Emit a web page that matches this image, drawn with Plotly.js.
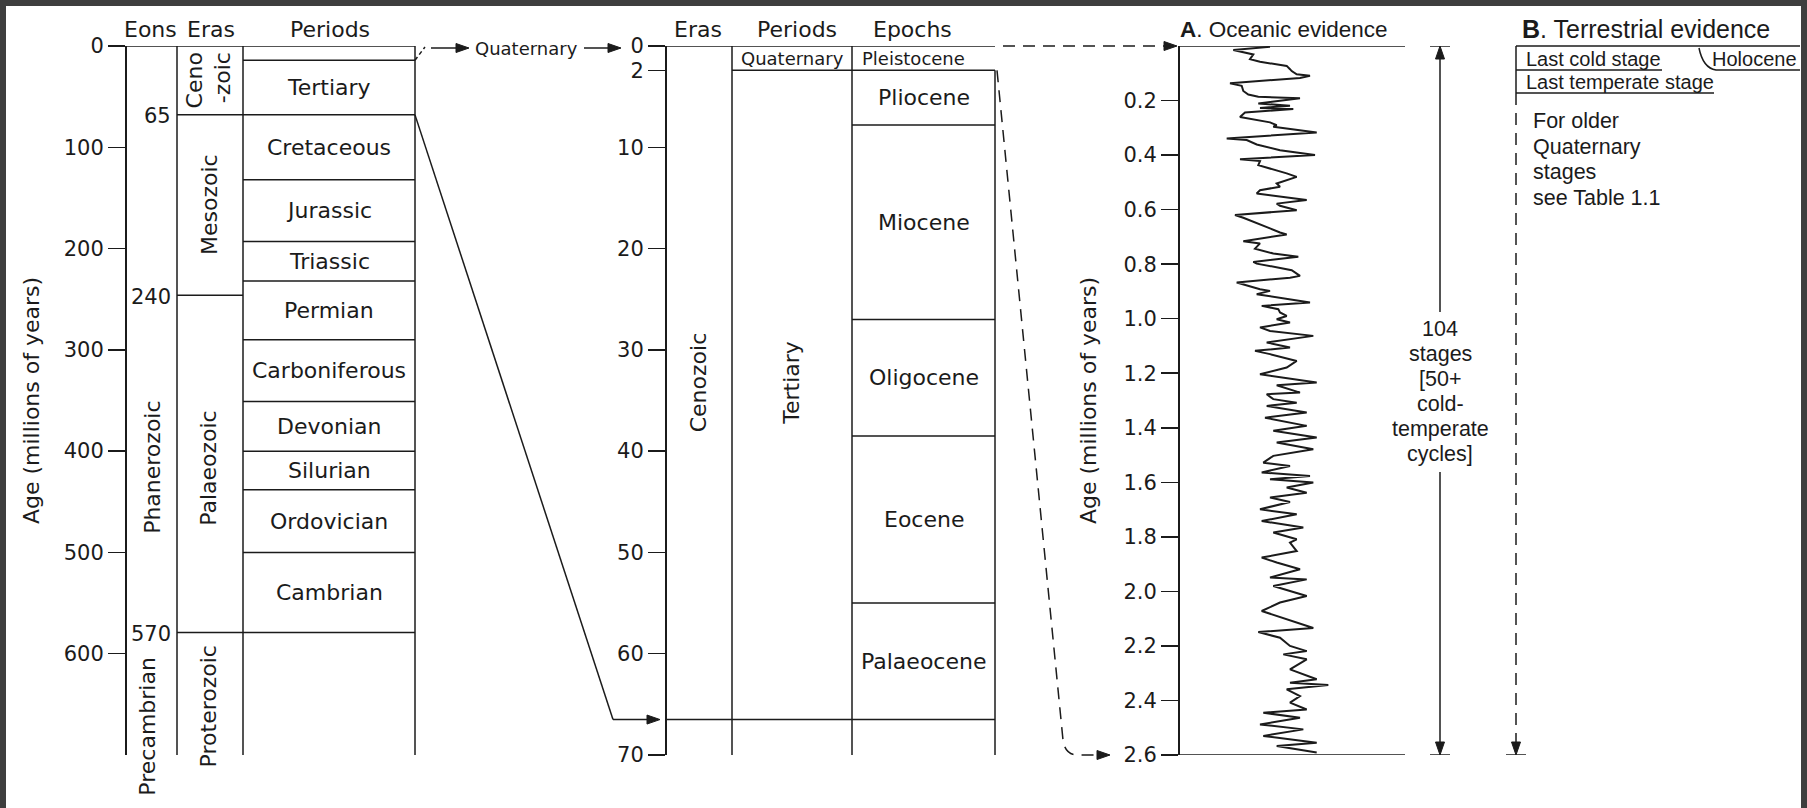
<!DOCTYPE html>
<html><head><meta charset="utf-8">
<script src="https://cdn.plot.ly/plotly-3.0.1.min.js"></script>
<style>html,body{margin:0;padding:0;background:#fff;}#chart{width:1807px;height:808px;}</style>
</head><body><div id="chart"></div>
<script>
// ================= DATA =================
// Left panel – whole geological column, ages in millions of years as drawn
const eonNames = ['Phanerozoic', 'Precambrian'];
const eraNames = ['Ceno<br>-zoic', 'Mesozoic', 'Palaeozoic', 'Proterozoic'];
const eraBounds = [0, 68, 246, 579, 700];
const eraBoundaryLabels = ['65', '240', '570'];
const periodNames = ['', 'Tertiary', 'Cretaceous', 'Jurassic', 'Triassic', 'Permian',
  'Carboniferous', 'Devonian', 'Silurian', 'Ordovician', 'Cambrian', ''];
const periodBounds = [0, 14, 68, 132, 193, 232, 290, 351, 400, 438, 500, 579, 700];
const leftTicks = [0, 100, 200, 300, 400, 500, 600];

// Middle panel – Cenozoic enlarged (Quaternary band drawn exaggerated)
const midEraName = 'Cenozoic';
const midPeriodNames = ['Quaternary', 'Tertiary'];
const midPeriodBounds = [0, 2.4, 66.5];
const epochNames = ['Pleistocene', 'Pliocene', 'Miocene', 'Oligocene', 'Eocene', 'Palaeocene'];
const epochBounds = [0, 2.4, 7.8, 27.0, 38.5, 55.0, 66.5];
const midTickPos = [0, 2.4, 10, 20, 30, 40, 50, 60, 70];
const midTickLabels = ['0', '2', '10', '20', '30', '40', '50', '60', '70'];

// Right panel A – oceanic isotope record (age in Ma, relative isotope value)
const oceanAge = [0.003,0.015,0.031,0.048,0.058,0.073,0.085,0.092,0.104,0.109,
  0.117,0.137,0.146,0.165,0.178,0.186,0.192,0.211,0.219,0.227,
  0.231,0.244,0.260,0.266,0.280,0.290,0.296,0.317,0.339,0.345,
  0.361,0.382,0.400,0.415,0.422,0.437,0.449,0.467,0.480,0.504,
  0.516,0.529,0.541,0.565,0.578,0.586,0.602,0.620,0.630,0.651,
  0.669,0.684,0.691,0.716,0.724,0.743,0.761,0.773,0.792,0.798,
  0.822,0.843,0.850,0.867,
  0.892,0.898,0.910,0.941,0.953,0.965,0.977,0.990,1.002,1.014,
  1.032,1.045,1.063,1.087,1.106,1.118,1.130,1.155,1.179,1.204,
  1.222,1.234,1.244,1.271,1.277,1.295,1.308,1.320,1.344,1.363,
  1.393,1.411,1.436,1.454,1.479,1.503,1.528,1.540,1.564,1.577,
  1.589,1.601,1.619,1.638,1.656,1.672,1.699,1.717,1.742,1.766,
  1.784,1.809,1.821,1.852,1.876,1.894,1.919,1.949,1.956,1.980,
  2.017,2.041,2.072,2.102,2.134,2.149,2.170,2.200,2.219,2.231,
  2.249,2.286,2.322,2.335,2.343,2.359,2.384,2.408,2.433,2.445,
  2.463,2.488,2.506,2.530,2.555,2.567,2.591];
const oceanValue = [80,43.3,63.3,60,70,96.7,100,101.7,106.7,120,
  110,40,51.7,53.3,58.3,68.3,110,68.3,100,70,
  103.3,55,50,58.3,80,86.7,83.3,126.7,36.7,56.7,
  66.7,90,125,50,70,68.3,80,96.7,106.7,86.7,
  90,70,66.7,116.7,86.7,90,106.7,45,53.3,66.7,
  80,90,96.7,53.3,70,65,83.3,108.3,63.3,66.7,
  101.7,110,100,46.7,
  70,80,66.7,120,71.7,88.3,90,96.7,86.7,100,
  70,80,123.3,76.7,100,65,80,106.7,96.7,70,
  103.3,126.7,86.7,110,76.7,83.3,106.7,76.7,116.7,75,
  116.7,83.3,126.7,86.7,123.3,83.3,73.3,100,71.7,120,
  80,123.3,96.7,116.7,80,100,70,106.7,71.7,113.3,
  83.3,106.7,100,106.7,71.7,86.7,110,80,116.7,83.3,
  116.7,90,71.7,96.7,123.3,68.3,90,100,116.7,93.3,
  116.7,100,126.7,100,138.3,96.7,110,100,116.7,73.3,
  110,70,113.3,73.3,126.7,86.7,126.7];
const rightTicks = [0.2, 0.4, 0.6, 0.8, 1.0, 1.2, 1.4, 1.6, 1.8, 2.0, 2.2, 2.4, 2.6];
const stageText = ['104', 'stages', '[50+', 'cold-', 'temperate', 'cycles]'];

// Right panel B – terrestrial evidence
const terrRows = ['Last cold stage', 'Holocene', 'Last temperate stage'];
const terrNote = ['For older', 'Quaternary', 'stages', 'see Table 1.1'];

// ================= LAYOUT CONSTANTS =================
const W = 1807, H = 808, TOP = 46, BOT = 755;
const FONT = 'DejaVu Sans, Liberation Sans, Arial, sans-serif';
const FONT_R = 'Liberation Sans, Arial, Helvetica, sans-serif';
const INK = '#1b1b1b';
const LEFT_MAX = 700, MID_MAX = 70, RIGHT_MAX = 2.6;
const yDom = [1 - BOT / H, 1 - TOP / H];
const py = p => 1 - p / H;
const pxL = v => TOP + v * (BOT - TOP) / LEFT_MAX;
const pxM = v => TOP + v * (BOT - TOP) / MID_MAX;
const C = {
  lAxis: 125, lEon: 177, lEra: 243, lPer: 415,
  mAxis: 665, mEra: 732, mPer: 852, mEpo: 995,
  rAxis: 1178, rEnd: 1405, span: 1440, bLeft: 1516, bEnd: 1800,
  curve0: 1190, curve1: 1370
};
const SPAN_GAP = [0.975, 1.562];   // where the 104-stages arrow is interrupted by its text

// ---------- line traces through the axes ----------
function seg(t, x0, x1, y0, y1) { t.x.push(x0, x1, null); t.y.push(y0, y1, null); }
const Lt = {x: [], y: []}, Mt = {x: [], y: []}, Rt = {x: [], y: []};
seg(Lt, C.lAxis, C.lPer, 0, 0);
[C.lEon, C.lEra, C.lPer].forEach(x => seg(Lt, x, x, 0, LEFT_MAX));
periodBounds.slice(1, -1).forEach(b => seg(Lt, C.lEra, C.lPer, b, b));
eraBounds.slice(1, -1).forEach(b => seg(Lt, C.lEon, C.lEra, b, b));

const midBase = epochBounds[epochBounds.length - 1];
seg(Mt, C.mAxis, C.mEpo, 0, 0);
seg(Mt, C.mEra, C.mEra, 0, MID_MAX);
seg(Mt, C.mPer, C.mPer, 0, MID_MAX);
seg(Mt, C.mEpo, C.mEpo, epochBounds[1], MID_MAX);
seg(Mt, C.mEra, C.mEpo, midPeriodBounds[1], midPeriodBounds[1]);
epochBounds.slice(2, -1).forEach(b => seg(Mt, C.mPer, C.mEpo, b, b));
seg(Mt, C.mAxis, C.mEpo, midBase, midBase);

seg(Rt, C.rAxis, C.rEnd, 0, 0);
seg(Rt, C.rAxis, C.rEnd, RIGHT_MAX, RIGHT_MAX);
seg(Rt, C.span - 10, C.span + 10, 0, 0);
seg(Rt, C.span - 10, C.span + 10, RIGHT_MAX, RIGHT_MAX);
seg(Rt, C.span, C.span, 0.02, SPAN_GAP[0]);
seg(Rt, C.span, C.span, SPAN_GAP[1], RIGHT_MAX - 0.02);
seg(Rt, C.bLeft - 10, C.bLeft + 10, RIGHT_MAX, RIGHT_MAX);

const lineStyle = {color: INK, width: 1.5};
const traces = [
  {type: 'scatter', mode: 'lines', x: Lt.x, y: Lt.y, xaxis: 'x', yaxis: 'y', line: lineStyle, hoverinfo: 'skip', showlegend: false},
  {type: 'scatter', mode: 'lines', x: Mt.x, y: Mt.y, xaxis: 'x', yaxis: 'y2', line: lineStyle, hoverinfo: 'skip', showlegend: false},
  {type: 'scatter', mode: 'lines', x: Rt.x, y: Rt.y, xaxis: 'x', yaxis: 'y3', line: lineStyle, hoverinfo: 'skip', showlegend: false},
  {type: 'scatter', mode: 'lines', x: oceanValue, y: oceanAge, xaxis: 'x2', yaxis: 'y3',
   line: {color: INK, width: 2}, hoverinfo: 'skip', showlegend: false, name: 'Oceanic evidence'}
];

// ---------- annotations (text) ----------
const anns = [];
function label(text, x, y, yref, o = {}) {
  anns.push({text, x, y, xref: 'x', yref, showarrow: false,
    xanchor: o.xa || 'center', yanchor: 'middle', textangle: o.rot || 0, align: o.align || 'center',
    font: {family: o.family || FONT, size: o.size || 22, color: INK}});
}
// headers
label('Eons', 150, py(29), 'paper');
label('Eras', 211, py(29), 'paper');
label('Periods', 330, py(29), 'paper');
label('Eras', 698, py(29), 'paper');
label('Periods', 797, py(29), 'paper');
label('Epochs', 912, py(29), 'paper');
label('<b>A</b>. Oceanic evidence', C.rAxis, py(29), 'paper', {xa: 'left', family: FONT_R, size: 22.5});
label('<b>B</b>. Terrestrial evidence', 1520, py(29), 'paper', {xa: 'left', family: FONT_R, size: 25});

// left column labels
periodNames.forEach((n, i) => { if (n) label(n, (C.lEra + C.lPer) / 2, (periodBounds[i] + periodBounds[i + 1]) / 2, 'y'); });
eraBoundaryLabels.forEach((t, i) => label(t, 173, eraBounds[i + 1] + 1.5, 'y', {xa: 'right', size: 21}));
label(eraNames[0], 209, (eraBounds[0] + eraBounds[1]) / 2, 'y', {rot: -90, align: 'right'});
label(eraNames[1], 209, (eraBounds[1] + eraBounds[2]) / 2, 'y', {rot: -90});
label(eraNames[2], 209, (eraBounds[2] + eraBounds[3]) / 2 + 4, 'y', {rot: -90});
label(eraNames[3], 208, 652, 'y', {rot: -90});
label(eonNames[0], 153, (eraBounds[2] + eraBounds[3]) / 2 + 4, 'y', {rot: -90});
label(eonNames[1], 148, 672, 'y', {rot: -90});

// middle column labels
const cenoMid = (midPeriodBounds[0] + midPeriodBounds[2]) / 2;
label(midEraName, (C.mAxis + C.mEra) / 2, cenoMid, 'y2', {rot: -90});
label(midPeriodNames[1], (C.mEra + C.mPer) / 2, cenoMid, 'y2', {rot: -90});
label(midPeriodNames[0], (C.mEra + C.mPer) / 2, (midPeriodBounds[0] + midPeriodBounds[1]) / 2, 'y2', {size: 18});
label(epochNames[0], 913, (epochBounds[0] + epochBounds[1]) / 2, 'y2', {size: 18});
epochNames.slice(1).forEach((n, k) => {
  const i = k + 1;
  label(n, (C.mPer + C.mEpo) / 2, (epochBounds[i] + epochBounds[i + 1]) / 2, 'y2');
});

// right panel labels
stageText.forEach((t, k) => label(t, C.span, py(329 + 25 * k), 'paper', {family: FONT_R, size: 21.5}));
label(terrRows[0], 1524, py(59), 'paper', {xa: 'left', family: FONT_R, size: 20});
label(terrRows[1], 1710, py(59), 'paper', {xa: 'left', family: FONT_R, size: 20});
label(terrRows[2], 1524, py(82), 'paper', {xa: 'left', family: FONT_R, size: 20});
terrNote.forEach((t, k) => label(t, 1531, py(121 + 25.5 * k), 'paper', {xa: 'left', family: FONT_R, size: 21.5}));

// connector label
label('Quaternary', 526, py(48), 'paper', {size: 18});

// ---------- shapes (connectors, arrowheads, frame) ----------
const shapes = [];
function pline(x0, p0, x1, p1, dash) {
  shapes.push({type: 'line', xref: 'x', yref: 'paper', x0, x1, y0: py(p0), y1: py(p1),
    line: {color: INK, width: 1.5, dash: dash || 'solid'}});
}
const P = (x, p) => x + ',' + py(p);
function ppath(d, dash) {
  shapes.push({type: 'path', xref: 'x', yref: 'paper', path: d, line: {color: INK, width: 1.5, dash: dash || 'solid'}});
}
function head(x, p, dir) {          // filled arrowhead, tip at (x, p)
  const L = 13, h = 4.5;
  let d;
  if (dir === 'r') d = 'M' + P(x, p) + ' L' + P(x - L, p - h) + ' L' + P(x - L, p + h) + ' Z';
  if (dir === 'd') d = 'M' + P(x, p) + ' L' + P(x - h, p - L) + ' L' + P(x + h, p - L) + ' Z';
  if (dir === 'u') d = 'M' + P(x, p) + ' L' + P(x - h, p + L) + ' L' + P(x + h, p + L) + ' Z';
  shapes.push({type: 'path', xref: 'x', yref: 'paper', path: d, fillcolor: INK, line: {color: INK, width: 1}});
}
const baseP = pxM(midBase);
// Left → middle (Quaternary)
pline(C.lPer, pxL(periodBounds[1]), 425, 47, '4px,3px');
pline(431, 48, 460, 48); head(469, 48, 'r');
pline(584, 48, 612, 48); head(621, 48, 'r');
// Left 65 Ma → middle base
pline(C.lPer, pxL(periodBounds[2]), 613, baseP);
pline(613, baseP, 650, baseP); head(660, baseP, 'r');
// Middle → A (top and bottom, dashed)
pline(1003, TOP, 1166, TOP, '12px,8px'); head(1177, TOP, 'r');
ppath('M' + P(C.mEpo + 2, pxM(epochBounds[1])) + ' L' + P(1063, 740) + ' Q' + P(1065, BOT) + ' ' + P(1078, BOT) + ' L' + P(1099, BOT), '12px,8px');
head(1110, BOT, 'r');
// 104-stage span arrowheads
head(C.span, TOP, 'u'); head(C.span, BOT, 'd');
// B panel
pline(C.bLeft, TOP, C.bEnd, TOP);
pline(C.bLeft, TOP, C.bLeft, 93);
pline(C.bLeft, 70, 1662, 70);
ppath('M' + P(1699, 48) + ' Q' + P(1703, 68) + ' ' + P(1716, 70) + ' L' + P(C.bEnd, 70));
pline(C.bLeft, 93, 1714, 93);
pline(C.bLeft, 93, C.bLeft, 744, '12px,8px'); head(C.bLeft, BOT, 'd');
// frame
const FR = '#3e3e3e';
shapes.push({type: 'rect', xref: 'paper', yref: 'paper', x0: 0, x1: 1, y0: py(6), y1: 1, fillcolor: FR, line: {width: 0}});
shapes.push({type: 'rect', xref: 'paper', yref: 'paper', x0: 0, x1: 6 / W, y0: 0, y1: 1, fillcolor: FR, line: {width: 0}});
shapes.push({type: 'rect', xref: 'paper', yref: 'paper', x0: (W - 6) / W, x1: 1, y0: 0, y1: 1, fillcolor: FR, line: {width: 0}});

// ---------- axes ----------
const tickFont = {family: FONT, size: 21, color: INK};
const titleFont = {family: FONT, size: 22, color: INK};
function yax(range, pos, vals, extra) {
  return Object.assign({domain: yDom, range, anchor: 'free', position: pos / W,
    showline: true, linecolor: INK, linewidth: 1.5, ticks: 'outside', ticklen: 17, tickwidth: 1.5,
    tickcolor: INK, tickvals: vals, tickfont: tickFont, showgrid: false, zeroline: false, fixedrange: true}, extra || {});
}
const layout = {
  width: W, height: H, margin: {l: 0, r: 0, t: 0, b: 0, pad: 0},
  paper_bgcolor: '#ffffff', plot_bgcolor: 'rgba(0,0,0,0)', showlegend: false,
  font: {family: FONT, color: INK},
  xaxis: {domain: [0, 1], range: [0, W], visible: false, fixedrange: true, anchor: 'y'},
  xaxis2: {domain: [C.curve0 / W, C.curve1 / W], range: [0, C.curve1 - C.curve0], visible: false, fixedrange: true, anchor: 'y3'},
  yaxis: yax([LEFT_MAX, 0], C.lAxis, leftTicks, {title: {text: 'Age (millions of years)', font: titleFont, standoff: 16}}),
  yaxis2: yax([MID_MAX, 0], C.mAxis, midTickPos, {ticktext: midTickLabels}),
  yaxis3: yax([RIGHT_MAX, 0], C.rAxis, rightTicks, {tickformat: '.1f', title: {text: 'Age (millions of years)', font: titleFont, standoff: 19}}),
  annotations: anns,
  shapes: shapes
};
Plotly.newPlot('chart', traces, layout, {displayModeBar: false, staticPlot: true});
</script></body></html>
